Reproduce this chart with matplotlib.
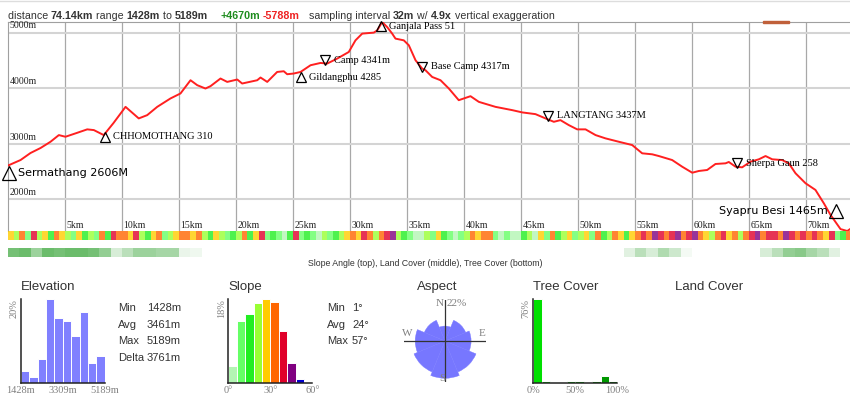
"""Trek elevation profile (Sermathang -> Syapru Besi) with slope / tree-cover
strips underneath and small summary histograms along the bottom.

Output: out.png (850x399)
"""
import matplotlib
matplotlib.use("Agg")
import matplotlib.pyplot as plt
import numpy as np
from matplotlib.colors import to_rgba
from matplotlib.patches import Rectangle, Wedge
from matplotlib.transforms import blended_transform_factory

W, H = 850, 399
SANS, SERIF = "Liberation Sans", "Liberation Serif"
INK, GREY = "#333333", "#808080"
PX_PER_KM = 11.4  # 5 km grid step is ~57 px in the reference

# profile (km along trail, metres)
KM = [0.0, 1.10, 1.97, 2.85, 3.73, 4.46, 5.04, 6.07, 6.95, 7.53,
      8.40, 9.25, 10.31, 11.47, 12.21, 13.09, 14.25, 15.13, 16.01, 16.60,
      17.32, 17.76, 18.64, 19.23, 20.11, 20.54, 21.86, 22.15, 22.74, 23.61,
      24.19, 24.49, 25.07, 25.66, 26.54, 27.41, 28.00, 28.88, 29.89, 30.48,
      31.07, 32.09, 32.39, 32.82, 33.26, 33.70, 33.99, 34.72, 35.16, 35.75,
      36.33, 36.62, 37.21, 37.94, 38.67, 39.54, 40.57, 41.30, 42.76, 44.23,
      45.11, 46.27, 47.15, 47.88, 48.46, 49.19, 49.93, 50.66, 51.54, 52.41,
      53.58, 54.75, 55.63, 56.51, 57.09, 58.26, 59.14, 60.02, 60.60, 61.33,
      62.06, 62.94, 63.23, 63.82, 64.40, 65.13, 65.86, 66.45, 67.04, 67.91,
      68.49, 69.08, 69.96, 70.83, 71.56, 72.15, 73.03, 73.62, 74.14]
ELEV = [2606, 2705, 2831, 2921, 3034, 3154, 3124, 3195, 3257, 3244,
        3154, 3370, 3662, 3454, 3513, 3662, 3813, 3903, 4141, 4052,
        3992, 4034, 4172, 4111, 4154, 4082, 4141, 4190, 4111, 4290,
        4303, 4249, 4262, 4290, 4411, 4452, 4441, 4531, 4649, 4859,
        4980, 4998, 5039, 5189, 5098, 4980, 4890, 4859, 4770, 4500,
        4351, 4321, 4200, 4141, 3992, 3782, 3854, 3752, 3662, 3603,
        3562, 3531, 3454, 3393, 3423, 3334, 3257, 3257, 3154, 3095,
        3034, 2975, 2826, 2808, 2777, 2705, 2585, 2477, 2508, 2526,
        2634, 2646, 2670, 2585, 2574, 2675, 2718, 2777, 2718, 2705,
        2646, 2467, 2287, 2167, 1928, 1718, 1462, 1428, 1500]
ELEV_MIN, ELEV_MAX = 1428, 5189

# waypoints: label, km, marker elevation, pointing up?
WP_NAMES = ["Sermathang 2606M", "CHHOMOTHANG 310", "Gildangphu 4285",
            "Camp 4341m", "Ganjala Pass 51", "Base Camp 4317m",
            "LANGTANG 3437M", "Sherpa Gaun 258", "Syapru Besi 1465m"]
WP_KM = [0.13, 8.49, 25.66, 27.85, 32.68, 36.33, 47.39, 63.96, 72.65]
WP_ELEV = [2472, 3124, 4195, 4500, 5111, 4384, 3504, 2643, 1790]
WP_UP = [True, True, True, False, True, False, False, False, True]
WP_BIG = ["Sermathang 2606M", "Syapru Besi 1465m"]

# slope strip, class per 0.5 km (index into SLOPE_COLORS)
SLOPE_BAND = [4, 3, 5, 1, 6, 3, 4, 2, 5, 4, 3, 1, 4, 2, 3, 1, 5, 2, 6, 5,
              5, 4, 6, 3, 2, 4, 5, 1, 3, 4, 5, 5, 4, 5, 3, 2, 4, 3, 1, 2,
              3, 5, 2, 4, 6, 1, 2, 1, 0, 2, 6, 1, 2, 1, 0, 3, 1, 2, 3, 4,
              5, 4, 6, 5, 3, 5, 6, 7, 3, 2, 1, 0, 0, 3, 1, 4, 2, 1, 0, 1,
              3, 5, 4, 5, 5, 1, 0, 1, 0, 0, 2, 3, 0, 4, 1, 5, 2, 3, 4, 1,
              3, 4, 1, 5, 2, 3, 5, 4, 2, 4, 5, 6, 5, 7, 6, 5, 6, 7, 5, 6,
              7, 5, 4, 3, 5, 6, 4, 5, 3, 5, 6, 7, 5, 6, 6, 5, 7, 6, 5, 6,
              5, 6, 5, 4, 6, 1, 2, 5]
# tree cover strip, share per km
TREE_BAND = [0.7, 0.75, 0.5, 0.75, 0.7, 0.75, 0.75, 0.7, 0.55, 0.2,
             0.35, 0.5, 0.5, 0.45, 0.45, 0.1, 0.08, 0, 0, 0,
             0, 0, 0, 0, 0, 0, 0, 0, 0, 0,
             0, 0, 0, 0, 0, 0, 0, 0, 0, 0,
             0, 0, 0, 0, 0, 0, 0, 0, 0, 0,
             0, 0, 0, 0, 0.15, 0.35, 0.2, 0.4, 0.25, 0.05,
             0, 0, 0, 0, 0, 0, 0.2, 0.35, 0.55, 0.6,
             0.45, 0.35, 0.15, 0]

# bottom panels
ELEV_HIST = [2.8, 1.4, 5.7, 20.1, 15.6, 14.8, 11.2, 17.1, 4.9, 6.4]
ELEV_STATS = [("Min", "1428m"), ("Avg", "3461m"), ("Max", "5189m"), ("Delta", "3761m")]
SLOPE_HIST = [3.7, 13.3, 14.8, 17.0, 17.9, 17.2, 11.0, 4.3, 0.9, 0.0]
SLOPE_COLORS = ["#b3f5b3", "#66ff66", "#22ee22", "#99ff33", "#ffcc00",
                "#ff6600", "#e0002a", "#800080", "#0000cc", "#000000"]
SLOPE_STATS = [("Min", "1°"), ("Avg", "24°"), ("Max", "57°")]
ASPECT_DIRS = ["N", "NE", "E", "SE", "S", "SW", "W", "NW"]
ASPECT_PCT = [8, 12, 14, 18, 20, 18, 16, 12]
ASPECT_MAX = 22
TREE_HIST = [76, 2.1, 1.2, 1.2, 1.5, 1.5, 1.2, 1.5, 6.7, 2.1]
TREE_COLORS = ["#00e000", "#00dc00", "#00d400", "#00cc00", "#00c400",
               "#00bc00", "#00b000", "#00a400", "#009800", "#008800"]


def px_axes(fig, x0, y0, w, h):
    return fig.add_axes([x0 / W, 1 - (y0 + h) / H, w / W, h / H])


def ftext(fig, x, y, s, **kw):
    return fig.text(x / W, 1 - y / H, s, **kw)


def small_hist(fig, x0, edges, values, colors, top_label, ticks):
    a = px_axes(fig, x0, 299, 84, 84)
    a.bar(edges[:-1], values, width=np.diff(edges), align="edge",
          color=colors, edgecolor="white", linewidth=0.7)
    a.set_xlim(edges[0], edges[-1])
    a.set_ylim(0, max(values))
    a.set_xticks([]); a.set_yticks([])
    for s in ("top", "right"):
        a.spines[s].set_visible(False)
    for s in ("left", "bottom"):
        a.spines[s].set_color("#222222"); a.spines[s].set_linewidth(1.1)
    a.text(-0.03, 1.0, top_label, transform=a.transAxes, rotation=90,
           ha="right", va="top", fontsize=7.5, family=SERIF, color=GREY)
    for v, lab in ticks:
        a.annotate(lab, (v, 0), xycoords=("data", "axes fraction"),
                   xytext=(0, -2.5), textcoords="offset points",
                   ha="center", va="top", fontsize=7.5, family=SERIF,
                   color=GREY, annotation_clip=False)
    return a


def main():
    fig = plt.figure(figsize=(W / 100, H / 100), dpi=100)
    fig.patch.set_facecolor("white")
    fig.add_artist(plt.Line2D([0, 1], [1 - 1 / H] * 2, color="#dddddd", lw=1))

    # header line, assembled from runs of different weight / colour
    runs = [("distance ", "normal", INK), ("74.14km", "bold", INK),
            (" range ", "normal", INK), ("1428m", "bold", INK),
            (" to ", "normal", INK), ("5189m", "bold", INK),
            ("    ", "normal", INK), ("+4670m", "bold", "#1e8c1e"),
            (" ", "normal", INK), ("-5788m", "bold", "#ee2222"),
            ("   sampling interval ", "normal", INK), ("32m", "bold", INK),
            (" w/ ", "normal", INK), ("4.9x", "bold", INK),
            (" vertical exaggeration", "normal", INK)]
    prev = None
    for s, wt, col in runs:
        kw = dict(fontsize=7.7, family=SANS, fontweight=wt, color=col, va="bottom", ha="left")
        if prev is None:
            prev = ftext(fig, 7.5, 21, s, **kw)
        else:
            prev = fig.add_artist(plt.Annotation(s, (1, 0), xycoords=prev, **kw))

    # main profile
    ax = px_axes(fig, 8, 22, 842, 209)
    ax.set_xlim(0, 842 / PX_PER_KM)
    ax.set_ylim(ELEV_MIN, ELEV_MAX)
    ax.set_xticks([]); ax.set_yticks([])
    for s in ("right", "bottom"):
        ax.spines[s].set_visible(False)
    for s in ("left", "top"):
        ax.spines[s].set_color("#a0a0a0")
    for k in range(5, 75, 5):
        ax.axvline(k, color="#a8a8a8", lw=0.9, zorder=1)
        ax.annotate(f"{k}km", (k, ELEV_MIN), xytext=(1, 0.6), textcoords="offset points",
                    ha="left", va="bottom", fontsize=7, family=SERIF, color="#222222")
    for e in (2000, 3000, 4000, 5000):
        ax.axhline(e, color="#d4d4d4", lw=1.5, zorder=1)
        ax.annotate(f"{e}m", (0, e), xytext=(1, 1.5), textcoords="offset points",
                    ha="left", va="bottom", fontsize=7, family=SERIF, color="#222222")
    ax.plot(KM, ELEV, color="#ff2020", lw=1.4, zorder=3, solid_joinstyle="round")

    for name, k, e, up in zip(WP_NAMES, WP_KM, WP_ELEV, WP_UP):
        big = name in WP_BIG
        ax.plot(k, e, marker="^" if up else "v", ms=9.5 if big else 6.5,
                mfc="none", mec="black", mew=0.9, zorder=4, clip_on=False)
        right_side = name != "Syapru Besi 1465m"
        ax.annotate(name, (k, e), xytext=(6.2 if right_side else -6.2, 0),
                    textcoords="offset points", ha="left" if right_side else "right",
                    va="center", fontsize=8 if big else 7.5,
                    family="DejaVu Sans" if big else SERIF, color="black", zorder=5)

    # small brown marker riding on the top frame
    bt = blended_transform_factory(ax.transData, ax.transAxes)
    ax.add_patch(Rectangle((66.2, 0.997), 2.3, 0.01, transform=bt,
                           color="#c0603a", clip_on=False, zorder=6))

    # slope strip
    sb = px_axes(fig, 8, 231, 842, 9)
    sx = np.arange(len(SLOPE_BAND)) * 0.5
    sb.bar(sx, 1, width=0.5, align="edge", linewidth=0, alpha=0.8,
           color=[SLOPE_COLORS[c] for c in SLOPE_BAND])
    sb.set_xlim(ax.get_xlim()); sb.set_ylim(0, 1); sb.axis("off")

    # tree cover strip
    tb = px_axes(fig, 8, 248, 842, 9)
    tx = np.arange(len(TREE_BAND))
    tb.bar(tx, 1, width=1, align="edge", linewidth=0,
           color=[to_rgba("#3aa63a", a) for a in TREE_BAND])
    tb.set_xlim(ax.get_xlim()); tb.set_ylim(0, 1); tb.axis("off")

    ftext(fig, 425, 263, "Slope Angle (top), Land Cover (middle), Tree Cover (bottom)",
          ha="center", va="center", fontsize=6.3, family=SANS, color=INK)

    # bottom panels
    tkw = dict(fontsize=9.5, family=SANS, color=INK, va="center")
    ftext(fig, 20.7, 287, "Elevation", ha="left", **tkw)
    ftext(fig, 228.3, 287, "Slope", ha="left", **tkw)
    ftext(fig, 437, 287, "Aspect", ha="center", **tkw)
    ftext(fig, 533.3, 287, "Tree Cover", ha="left", **tkw)
    ftext(fig, 709, 287, "Land Cover", ha="center", **tkw)

    small_hist(fig, 20.7, np.linspace(ELEV_MIN, ELEV_MAX, 11), ELEV_HIST, "#8080ff",
               "20%", [(ELEV_MIN, "1428m"), (3309, "3309m"), (ELEV_MAX, "5189m")])
    small_hist(fig, 228.3, np.linspace(0, 60, 11), SLOPE_HIST, SLOPE_COLORS,
               "18%", [(0, "0°"), (30, "30°"), (60, "60°")])
    small_hist(fig, 533.3, np.linspace(0, 100, 11), TREE_HIST, TREE_COLORS,
               "76%", [(0, "0%"), (50, "50%"), (100, "100%")])

    skw = dict(fontsize=8, family=SANS, color=INK, va="center", ha="left")
    for i, (lab, val) in enumerate(ELEV_STATS):
        ftext(fig, 118, 308 + i * 16.7, lab, **skw)
        ftext(fig, 147, 308 + i * 16.7, val, **skw)
    for i, (lab, val) in enumerate(SLOPE_STATS):
        ftext(fig, 327, 308 + i * 16.7, lab, **skw)
        ftext(fig, 352, 308 + i * 16.7, val, **skw)

    # aspect rose
    ra = px_axes(fig, 404, 300, 82, 82)
    ra.set_xlim(-ASPECT_MAX, ASPECT_MAX); ra.set_ylim(-ASPECT_MAX, ASPECT_MAX)
    ra.set_aspect("equal"); ra.axis("off")
    for i, pct in enumerate(ASPECT_PCT):
        mid = 90 - 45 * i
        ra.add_patch(Wedge((0, 0), pct, mid - 22.5, mid + 22.5,
                           facecolor="#7777ff", edgecolor="#7777ff", lw=0.3))
    ra.plot([-ASPECT_MAX, ASPECT_MAX], [0, 0], color="#333333", lw=0.9)
    ra.plot([0, 0], [-ASPECT_MAX, ASPECT_MAX], color="#333333", lw=0.9)
    lkw = dict(fontsize=8, family=SERIF, color=GREY, va="center")
    ra.text(-0.6, 20, "N", ha="right", **lkw)
    ra.text(0.6, 20, f"{ASPECT_MAX}%", ha="left", **lkw)
    ra.text(-20, 4, "W", ha="center", **lkw)
    ra.text(20, 4, "E", ha="center", **lkw)
    ra.text(-1.2, -20, "S", ha="center", **lkw)

    fig.savefig("out.png", dpi=100, facecolor="white")
    plt.close(fig)


if __name__ == "__main__":
    main()
